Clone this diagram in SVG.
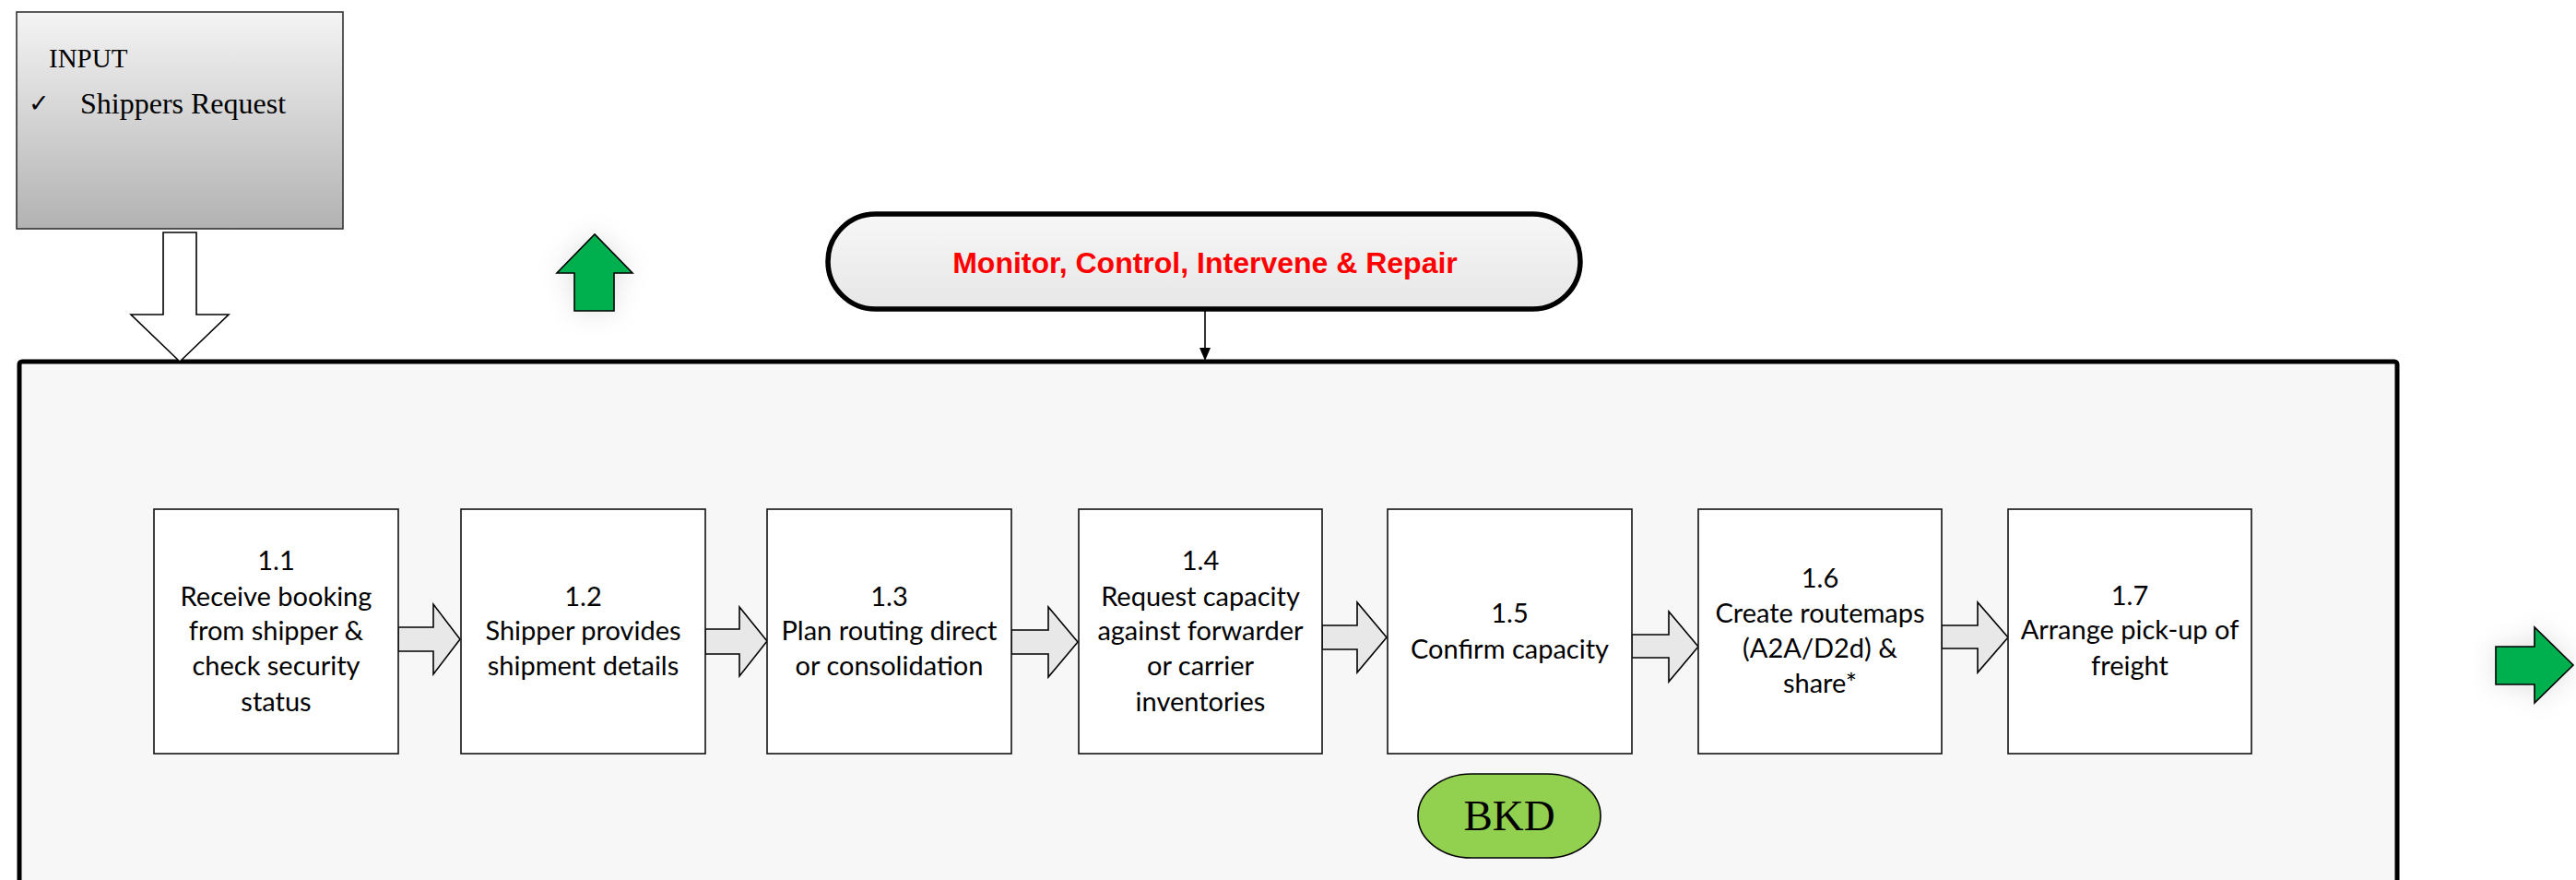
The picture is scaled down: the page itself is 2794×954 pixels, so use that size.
<svg xmlns="http://www.w3.org/2000/svg" width="2794" height="954" viewBox="0 0 2794 954">
<defs>
<linearGradient id="gIn" x1="0" y1="0" x2="0" y2="1">
<stop offset="0" stop-color="#f4f4f4"/><stop offset="1" stop-color="#b2b2b2"/>
</linearGradient>
<linearGradient id="gPill" x1="0" y1="0" x2="0" y2="1">
<stop offset="0" stop-color="#f7f7f7"/><stop offset="1" stop-color="#e6e6e6"/>
</linearGradient>
<filter id="glow" x="-60%" y="-60%" width="220%" height="220%">
<feGaussianBlur in="SourceAlpha" stdDeviation="14" result="b"/>
<feFlood flood-color="#000" flood-opacity="0.12"/>
<feComposite in2="b" operator="in" result="s"/>
<feMerge><feMergeNode in="s"/><feMergeNode in="SourceGraphic"/></feMerge>
</filter>
<style>
.box{fill:#fff;stroke:#111;stroke-width:1.6}
.t{font-family:Lato,"Open Sans",sans-serif;font-size:29px;fill:#000;text-anchor:middle}
.ga{fill:#e8e8e8;stroke:#000;stroke-width:1.6;stroke-linejoin:miter}
.green{fill:#00b050;stroke:#000;stroke-width:1.6}
.serif{font-family:"Liberation Serif","Times New Roman",serif;fill:#000}
</style>
</defs>
<rect width="2794" height="954" fill="#fff"/>

<g id="frame">
<rect x="21" y="392" width="2579" height="620" rx="3" fill="#f7f7f7" stroke="#000" stroke-width="5"/>
</g>

<g id="input">
<rect x="18" y="13" width="354" height="235" fill="url(#gIn)" stroke="#333" stroke-width="1.6"/>
<text class="serif" x="53" y="73" font-size="29">INPUT</text>
<text x="31" y="121" font-family="'DejaVu Sans',sans-serif" font-size="27" fill="#000">✓</text>
<text class="serif" x="87" y="123" font-size="32">Shippers Request</text>
</g>

<g id="green-up" filter="url(#glow)">
<polygon class="green" points="623,337 623,296 604,296 645,254 686,296 666,296 666,337"/>
</g>

<g id="monitor">
<rect x="898" y="232" width="816" height="103" rx="51.5" fill="url(#gPill)" stroke="#000" stroke-width="5.5"/>
<text x="1307" y="296" font-family="'Liberation Sans',Arial,sans-serif" font-weight="bold" font-size="32" fill="#ff0000" text-anchor="middle">Monitor, Control, Intervene &amp; Repair</text>
</g>

<g id="connectors">
<polygon points="177,252 213,252 213,341 248,341 195,392 142,341 177,341" fill="#fff" stroke="#000" stroke-width="1.6"/>
<line x1="1307" y1="337" x2="1307" y2="378" stroke="#000" stroke-width="1.6"/>
<polygon points="1301,377 1313,377 1307,391" fill="#000"/>
<polygon class="ga" points="432,680 470,680 470,655 499,693 470,731 470,706 432,706"/>
<polygon class="ga" points="765,682 802,682 802,658 832,695 802,733 802,709 765,709"/>
<polygon class="ga" points="1097,683 1137,683 1137,658 1169,696 1137,734 1137,709 1097,709"/>
<polygon class="ga" points="1434,678 1472,678 1472,653 1504,691 1472,729 1472,704 1434,704"/>
<polygon class="ga" points="1770,688 1810,688 1810,663 1842,701 1810,739 1810,713 1770,713"/>
<polygon class="ga" points="2106,678 2145,678 2145,653 2178,691 2145,729 2145,703 2106,703"/>
</g>

<g id="n11">
<rect class="box" x="167" y="552" width="265" height="265"/>
<text class="t" x="299.5" y="618">1.1</text>
<text class="t" x="299.5" y="657">Receive booking</text>
<text class="t" x="299.5" y="694">from shipper &amp;</text>
<text class="t" x="299.5" y="732">check security</text>
<text class="t" x="299.5" y="771">status</text>
</g>
<g id="n12">
<rect class="box" x="500" y="552" width="265" height="265"/>
<text class="t" x="632.5" y="657">1.2</text>
<text class="t" x="632.5" y="694">Shipper provides</text>
<text class="t" x="632.5" y="732">shipment details</text>
</g>
<g id="n13">
<rect class="box" x="832" y="552" width="265" height="265"/>
<text class="t" x="964.5" y="657">1.3</text>
<text class="t" x="964.5" y="694">Plan routing direct</text>
<text class="t" x="964.5" y="732">or consolidation</text>
</g>
<g id="n14">
<rect class="box" x="1170" y="552" width="264" height="265"/>
<text class="t" x="1302" y="618">1.4</text>
<text class="t" x="1302" y="657">Request capacity</text>
<text class="t" x="1302" y="694">against forwarder</text>
<text class="t" x="1302" y="732">or carrier</text>
<text class="t" x="1302" y="771">inventories</text>
</g>
<g id="n15">
<rect class="box" x="1505" y="552" width="265" height="265"/>
<text class="t" x="1637.5" y="675">1.5</text>
<text class="t" x="1637.5" y="714">Confirm capacity</text>
</g>
<g id="n16">
<rect class="box" x="1842" y="552" width="264" height="265"/>
<text class="t" x="1974" y="637">1.6</text>
<text class="t" x="1974" y="675">Create routemaps</text>
<text class="t" x="1974" y="713">(A2A/D2d) &amp;</text>
<text class="t" x="1974" y="751">share*</text>
</g>
<g id="n17">
<rect class="box" x="2178" y="552" width="264" height="265"/>
<text class="t" x="2310" y="656">1.7</text>
<text class="t" x="2310" y="693">Arrange pick-up of</text>
<text class="t" x="2310" y="732">freight</text>
</g>

<g id="bkd">
<rect x="1538" y="839" width="198" height="91" rx="58" ry="45" fill="#92d050" stroke="#000" stroke-width="1.6"/>
<text class="serif" x="1637" y="900" font-size="47" text-anchor="middle">BKD</text>
</g>

<g id="green-right" filter="url(#glow)">
<polygon class="green" points="2707,701 2749,701 2749,680 2791,721 2749,762 2749,742 2707,742"/>
</g>
</svg>
